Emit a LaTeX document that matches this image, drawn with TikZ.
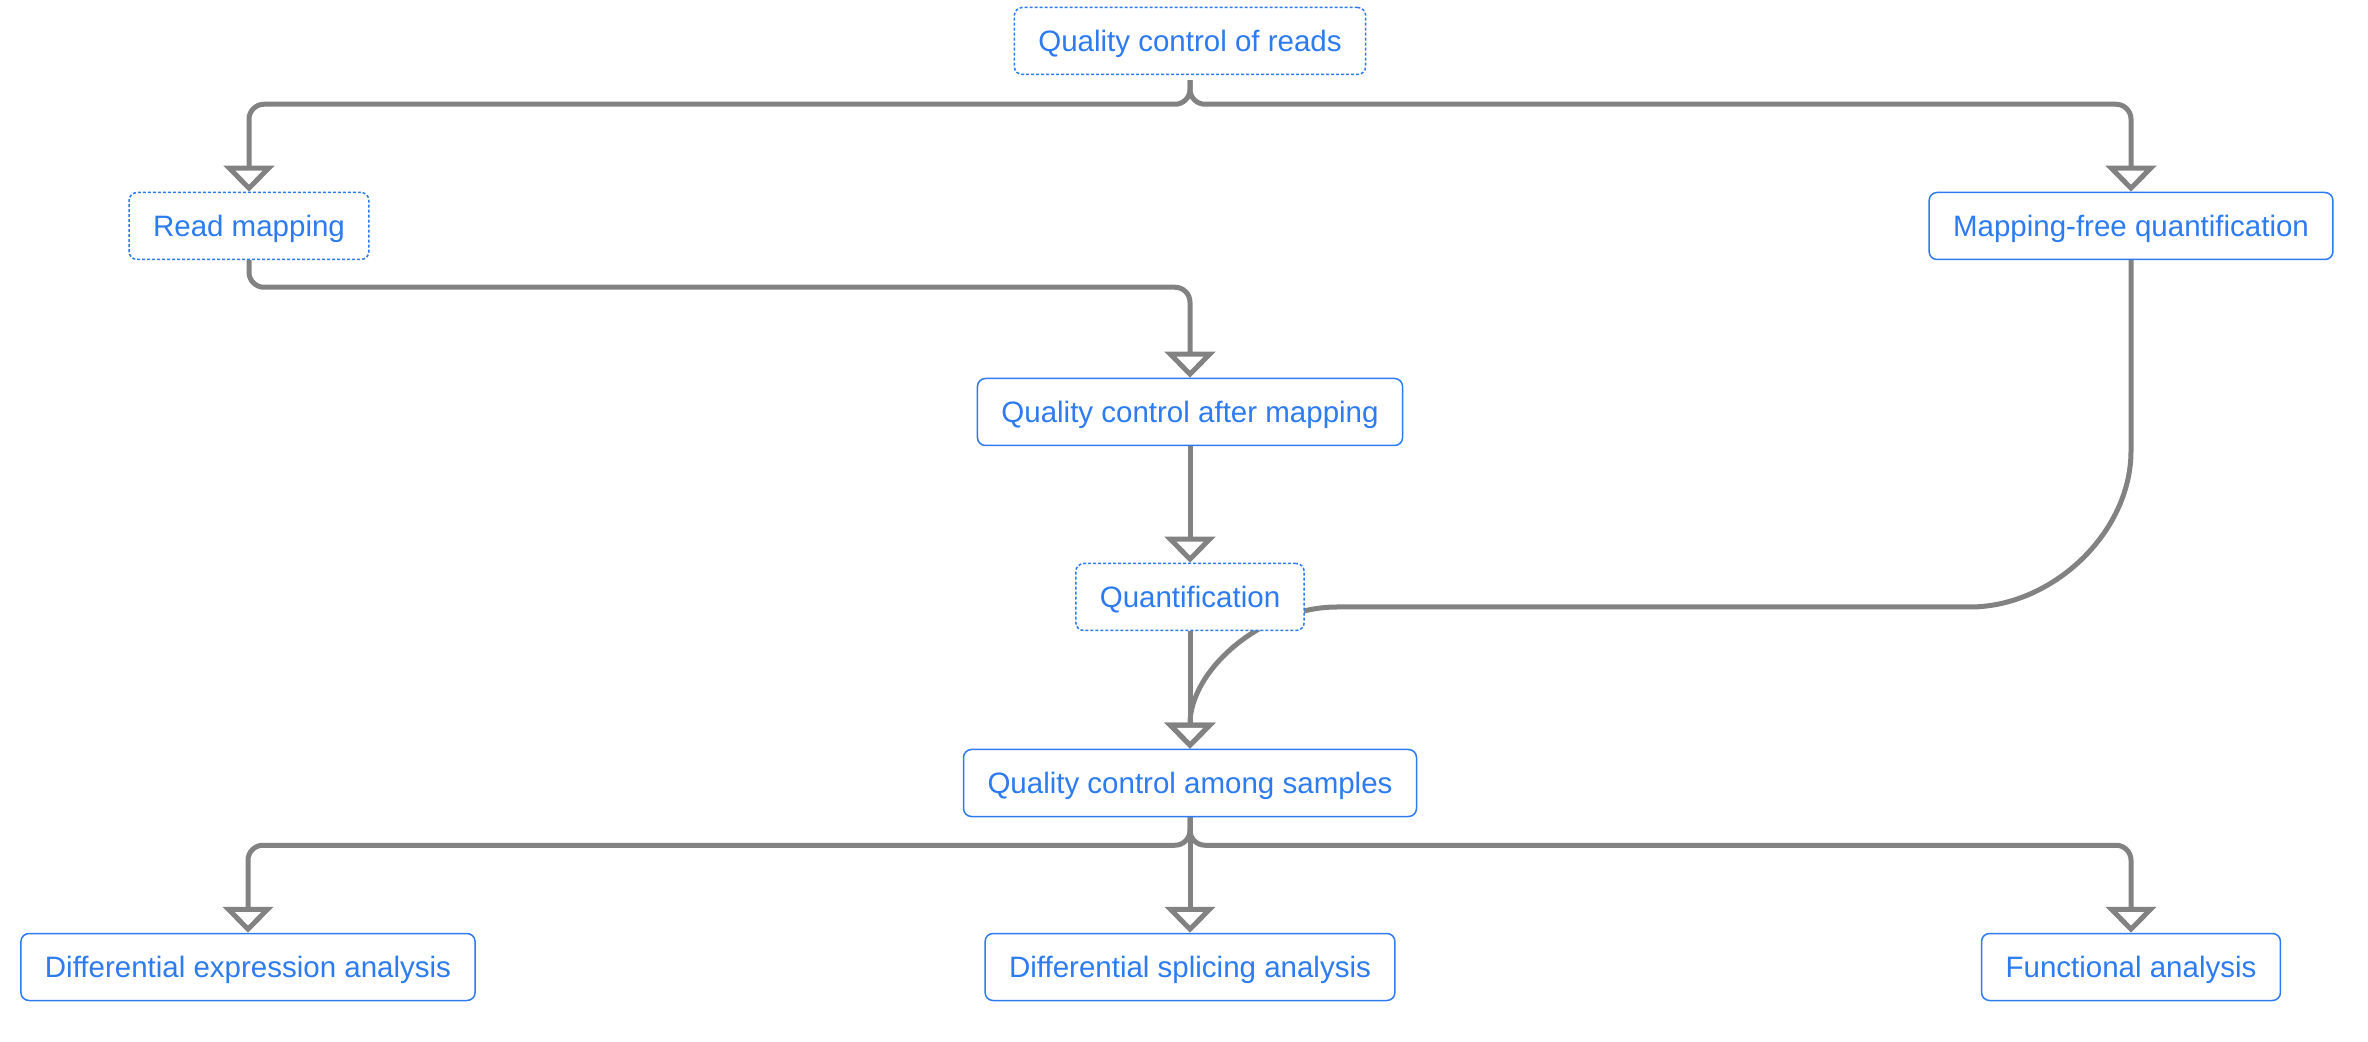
\documentclass[tikz,border=0pt]{standalone}
\usepackage{fontspec}
\setmainfont{Liberation Sans}
\usepackage{tikz}
\usetikzlibrary{arrows.meta,backgrounds}
\definecolor{nodeblue}{RGB}{44,123,240}
\definecolor{linegray}{RGB}{130,130,130}

\begin{document}
\begin{tikzpicture}[x=0.5pt,y=-0.5pt,
    box/.style={draw=nodeblue, line width=0.75pt, fill=white, rounded corners=4pt,
        text=nodeblue, font=\fontsize{14.75pt}{17pt}\selectfont,
        text height=10.6pt, text depth=0pt,
        minimum height=33.5pt, inner xsep=12pt, inner ysep=0pt},
    dotbox/.style={box, dash pattern=on 1.5pt off 1pt},
    flow/.style={draw=linegray, line width=2.5pt, rounded corners=7.5pt,
        -{Triangle[open, width=25pt, length=13pt]}}]
    \useasboundingbox (0,0) rectangle (2368,1042);
    % Steps
    \node[dotbox] (reads) at (1190,41) {Quality control of reads};
    \node[dotbox] (readmap) at (249,226) {Read mapping};
    \node[box] (mapfree) at (2131,226) {Mapping-free quantification};
    \node[box] (qcmap) at (1190,412) {Quality control after mapping};
    \node[dotbox] (quant) at (1190,597) {Quantification};
    \node[box] (qcsamp) at (1190,783) {Quality control among samples};
    \node[box] (diffexp) at (248,967) {Differential expression analysis};
    \node[box] (diffsplice) at (1190,967) {Differential splicing analysis};
    \node[box] (func) at (2131,967) {Functional analysis};
    % Connectors
    \begin{scope}[on background layer]
        \draw[flow, shorten <=2.5pt] (reads.south) -- ++(0,29) -| (readmap.north);
        \draw[flow, shorten <=2.5pt] (reads.south) -- ++(0,29) -| (mapfree.north);
        \draw[flow] (readmap.south) -- ++(0,27) -| (qcmap.north);
        \draw[flow] (qcmap.south) -- (quant.north);
        \draw[flow] (quant.south) -- (qcsamp.north);
        % Mapping-free branch joins below quantification
        \draw[flow] (mapfree.south) -- (2131,436)
            .. controls (2131,533) and (2052,607) .. (1955,607) -- (1352,607)
            .. controls (1262,607) and (1190,670) .. (qcsamp.north);
        \draw[flow] (qcsamp.south) -- ++(0,28) -| (diffexp.north);
        \draw[flow] (qcsamp.south) -- (diffsplice.north);
        \draw[flow] (qcsamp.south) -- ++(0,28) -| (func.north);
    \end{scope}
\end{tikzpicture}
\end{document}
